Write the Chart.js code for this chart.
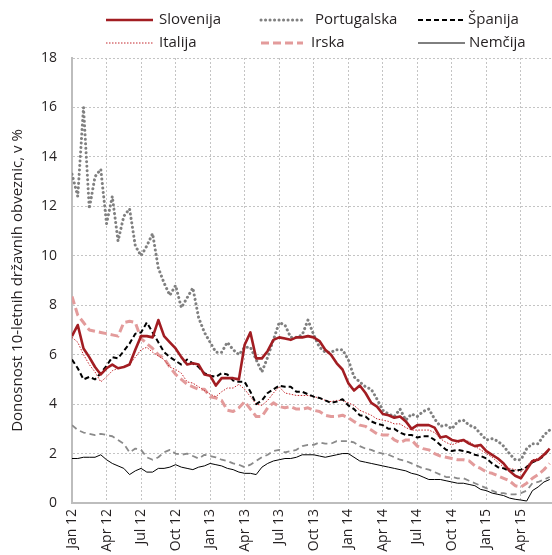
<!DOCTYPE html>
<html>
<head>
<meta charset="utf-8">
<script src="https://cdn.jsdelivr.net/npm/chart.js@4.4.1/dist/chart.umd.min.js"></script>
<style>
  html, body { margin: 0; padding: 0; background: #fff; }
  #wrap { width: 552px; height: 555px; }
</style>
</head>
<body>
<div id="wrap"><canvas id="yieldChart" width="552" height="555"></canvas></div>
<script>
// half-month steps, 0 = 1 Jan 2012
const xMonths = [0,0.5,1,1.5,2,2.5,3,3.5,4,4.5, 5,5.5,6,6.5,7,7.5,8,8.5,9,9.5,
  10,10.5,11,11.5,12,12.5,13,13.5,14,14.5, 15,15.5,16,16.5,17,17.5,18,18.5,19,19.5,
  20,20.5,21,21.5,22,22.5,23,23.5,24,24.5, 25,25.5,26,26.5,27,27.5,28,28.5,29,29.5,
  30,30.5,31,31.5,32,32.5,33,33.5,34,34.5, 35,35.5,36,36.5,37,37.5,38,38.5,39,39.5,
  40,40.5,41,41.5];

const tickLabels = ['Jan 12','Apr 12','Jul 12','Oct 12','Jan 13','Apr 13','Jul 13','Oct 13',
  'Jan 14','Apr 14','Jul 14','Oct 14','Jan 15','Apr 15'];

const slovenija = [6.75,7.2,6.25,5.9,5.5,5.2,5.45,5.6,5.45,5.5, 5.6,6.2,6.75,6.75,6.7,7.4,6.75,6.5,6.25,5.9,
  5.6,5.65,5.6,5.2,5.15,4.75,5.05,5.05,5.05,5.0, 6.4,6.9,5.85,5.85,6.15,6.6,6.7,6.65,6.6,6.7,
  6.7,6.75,6.7,6.55,6.2,6.0,5.65,5.4,4.85,4.55, 4.75,4.45,4.05,3.9,3.6,3.55,3.45,3.5,3.3,3.0,
  3.15,3.15,3.15,3.05,2.65,2.7,2.55,2.5,2.55,2.4, 2.3,2.35,2.1,1.95,1.8,1.6,1.3,1.1,1.0,1.35,
  1.7,1.75,1.95,2.2];

const portugalska = [13.3,12.4,16.0,11.9,13.2,13.5,11.3,12.4,10.6,11.6, 11.9,10.4,10.0,10.4,10.9,9.5,8.9,8.4,8.8,7.9,
  8.3,8.7,7.5,6.9,6.5,6.1,6.1,6.5,6.2,6.0, 6.3,6.3,5.8,5.3,5.9,6.6,7.3,7.2,6.7,6.7,
  6.8,7.4,6.8,6.3,6.1,6.1,6.2,6.2,5.8,5.1, 4.9,4.7,4.6,4.2,3.75,3.6,3.5,3.8,3.35,3.6,
  3.5,3.7,3.8,3.4,3.1,3.15,3.0,3.3,3.35,3.15, 3.05,2.8,2.55,2.6,2.5,2.3,2.0,1.75,1.75,2.2,
  2.4,2.4,2.75,2.95];

const spanija = [5.8,5.45,5.0,5.1,5.0,5.25,5.55,5.9,5.85,6.15, 6.45,6.85,6.9,7.3,6.9,6.5,6.1,5.9,5.75,5.6,
  5.8,5.65,5.5,5.25,5.15,5.1,5.25,5.2,4.95,4.9, 4.9,4.5,4.0,4.15,4.45,4.6,4.75,4.7,4.7,4.5,
  4.5,4.4,4.3,4.25,4.15,4.05,4.1,4.2,3.95,3.8, 3.55,3.5,3.3,3.2,3.15,3.0,3.0,2.85,2.75,2.75,
  2.65,2.7,2.7,2.55,2.35,2.15,2.1,2.15,2.1,2.05, 1.95,1.9,1.8,1.6,1.45,1.4,1.3,1.3,1.35,1.45,
  1.65,1.75,1.9,2.2];

const italija = [6.7,6.5,6.0,5.6,5.3,4.9,5.1,5.35,5.45,5.5, 5.6,5.9,6.2,6.3,6.1,5.95,5.8,5.5,5.4,5.25,
  4.9,4.85,4.7,4.55,4.4,4.3,4.5,4.65,4.65,4.8, 4.6,4.3,4.0,3.95,4.15,4.45,4.7,4.45,4.4,4.35,
  4.35,4.35,4.3,4.25,4.15,4.1,4.15,4.15,4.05,3.95, 3.75,3.65,3.55,3.4,3.35,3.3,3.2,3.2,3.05,2.95,
  2.95,2.95,2.95,2.85,2.6,2.45,2.35,2.45,2.5,2.5, 2.3,2.15,2.0,1.85,1.65,1.45,1.4,1.35,1.25,1.5,
  1.75,1.8,2.0,2.2];

const irska = [8.35,7.6,7.3,7.0,6.95,6.9,6.85,6.8,6.75,7.3, 7.35,7.3,6.65,6.45,6.25,6.0,5.85,5.5,5.2,5.0,
  4.8,4.7,4.6,4.6,4.3,4.25,4.15,3.75,3.7,3.85, 4.1,3.8,3.5,3.5,3.85,4.05,3.9,3.85,3.9,3.8,
  3.8,3.85,3.75,3.7,3.55,3.5,3.5,3.55,3.45,3.3, 3.15,3.1,2.95,2.8,2.75,2.75,2.55,2.45,2.55,2.55,
  2.3,2.2,2.15,2.0,1.9,1.85,1.8,1.75,1.75,1.7, 1.5,1.4,1.25,1.2,1.1,1.0,0.9,0.7,0.65,0.8,
  1.0,1.15,1.35,1.6];

const nemcija = [1.8,1.8,1.85,1.85,1.85,1.95,1.75,1.6,1.5,1.4, 1.15,1.3,1.4,1.25,1.25,1.4,1.4,1.45,1.55,1.45,
  1.4,1.35,1.45,1.5,1.6,1.55,1.5,1.4,1.35,1.25, 1.2,1.2,1.15,1.45,1.6,1.7,1.75,1.8,1.8,1.85,
  1.95,1.95,1.95,1.9,1.85,1.9,1.95,2.0,2.0,1.85, 1.7,1.65,1.6,1.55,1.5,1.45,1.4,1.35,1.3,1.2,
  1.15,1.05,0.95,0.95,0.95,0.9,0.85,0.8,0.8,0.75, 0.7,0.55,0.5,0.4,0.35,0.3,0.2,0.15,0.12,0.08,
  0.5,0.65,0.85,0.95];

// grey dashed series without a legend entry
const francija = [3.15,2.95,2.85,2.8,2.75,2.8,2.75,2.7,2.55,2.4, 2.05,2.2,2.15,1.85,1.75,1.85,2.05,2.15,2.0,1.95,
  2.0,1.9,1.8,1.95,1.9,1.85,1.75,1.7,1.6,1.55, 1.45,1.55,1.7,1.85,1.95,2.1,2.15,2.05,2.1,2.15,
  2.3,2.35,2.35,2.45,2.4,2.4,2.5,2.5,2.5,2.45, 2.3,2.2,2.15,2.05,2.0,1.95,1.85,1.75,1.7,1.6,
  1.5,1.4,1.35,1.25,1.15,1.05,1.05,1.0,1.0,0.9, 0.8,0.7,0.6,0.5,0.4,0.4,0.35,0.35,0.4,0.5,
  0.8,0.85,0.95,1.05];

const FONT = '"Open Sans", "DejaVu Sans", sans-serif';
const TEXT = '#231f20';

const pts = arr => xMonths.map((x, i) => ({ x: x, y: arr[i] }));

function line(label, arr, color, width, dash, cap) {
  return {
    label: label,
    data: pts(arr),
    borderColor: color,
    borderWidth: width,
    borderDash: dash,
    borderCapStyle: cap || 'butt',
    borderJoinStyle: 'round',
    pointRadius: 0,
    tension: 0,
    fill: false
  };
}

const datasets = [
  line('Slovenija', slovenija, '#a21d22', 2.6, []),
  line('Portugalska', portugalska, '#808080', 3, [0.1, 4.4], 'round'),
  line('Španija', spanija, '#000000', 2, [5, 3]),
  line('Italija', italija, '#c3262c', 1, [1.5, 1.5]),
  line('Irska', irska, '#e39b9b', 3, [8, 4]),
  line('Nemčija', nemcija, '#000000', 1, []),
  line('', francija, '#8a8a8a', 1.8, [6, 4])
];

// legend grid: [line start, line end, text x, y]
const legendSlots = [[106,153,159,20],[261,303,315,20],[418,465,468,20],
                     [106,153,159,43],[261,303,311,43],[418,465,469,43]];
const legendOrder = [0, 1, 2, 3, 4, 5];

const gridLegend = {
  id: 'gridLegend',
  afterDraw(chart) {
    const ctx = chart.ctx;
    ctx.save();
    ctx.font = '15px ' + FONT;
    ctx.textBaseline = 'middle';
    ctx.textAlign = 'left';
    legendOrder.forEach((di, k) => {
      const ds = chart.data.datasets[di];
      const s = legendSlots[k];
      ctx.beginPath();
      ctx.strokeStyle = ds.borderColor;
      ctx.lineWidth = ds.borderWidth;
      ctx.lineCap = ds.borderCapStyle;
      ctx.setLineDash(ds.borderDash);
      ctx.moveTo(s[0], s[3]);
      ctx.lineTo(s[1], s[3]);
      ctx.stroke();
      ctx.setLineDash([]);
      ctx.fillStyle = TEXT;
      ctx.fillText(ds.label, s[2], s[3]);
    });
    ctx.restore();
  }
};

document.addEventListener('DOMContentLoaded', e => {
  const ctx = document.getElementById('yieldChart');
  new Chart(ctx, {
    type: 'line',
    data: { datasets: datasets },
    options: {
      responsive: false,
      animation: false,
      events: [],
      layout: { padding: { top: 58, left: 0, right: 0, bottom: 0 } },
      plugins: {
        legend: { display: false },
        tooltip: { enabled: false }
      },
      scales: {
        x: {
          type: 'linear',
          min: 0,
          max: 41.7,
          ticks: {
            stepSize: 3,
            includeBounds: false,
            autoSkip: false,
            minRotation: 90,
            maxRotation: 90,
            padding: 6,
            color: TEXT,
            font: { family: FONT, size: 14 },
            callback: v => tickLabels[Math.round(v / 3)] || ''
          },
          grid: { color: '#c4c4c4', lineWidth: 1, drawTicks: false },
          border: { color: '#bdbdbd', width: 2, dash: [2, 2] },
          afterFit: s => { s.height = 52; }
        },
        y: {
          min: 0,
          max: 18,
          ticks: {
            stepSize: 2,
            padding: 15,
            color: TEXT,
            font: { family: FONT, size: 14 }
          },
          grid: { color: '#c4c4c4', lineWidth: 1, drawTicks: false },
          border: { color: '#bdbdbd', width: 2, dash: [2, 2] },
          title: {
            display: true,
            text: 'Donosnost 10-letnih državnih obveznic, v %',
            color: TEXT,
            font: { family: FONT, size: 15 },
            padding: { top: 9, bottom: 0 }
          },
          afterFit: s => { s.width = 72; }
        }
      }
    },
    plugins: [gridLegend]
  });
});
</script>
</body>
</html>
